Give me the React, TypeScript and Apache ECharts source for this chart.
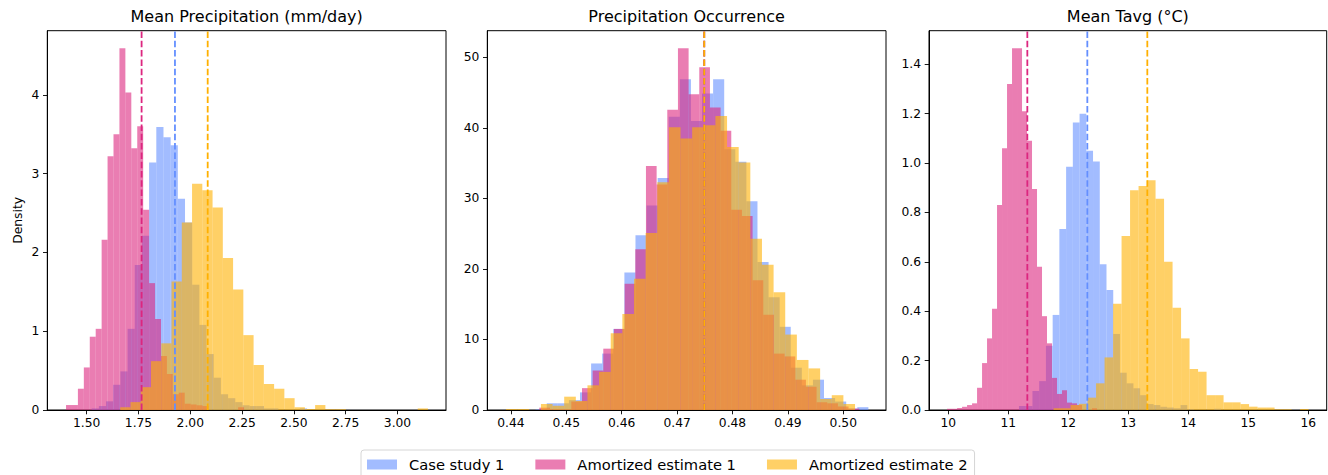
import React, { useEffect, useRef } from "react";
import * as echarts from "echarts";

// ---------- legend / series ----------
const SERIES_NAMES = ["Case study 1", "Amortized estimate 1", "Amortized estimate 2"];
const FILL_COLORS = ["rgba(100,143,255,0.6)", "rgba(220,38,127,0.6)", "rgba(255,176,0,0.6)"];
const LINE_COLORS = ["#648FFF", "#DC267F", "#FFB000"];

const panelTitles = ["Mean Precipitation (mm/day)", "Precipitation Occurrence", "Mean Tavg (°C)"];

// ---------- Panel 1: Mean Precipitation ----------
const precipBinStart = [1.5241, 1.4003, 1.662];
const precipBinWidth = [0.03465, 0.02864, 0.0495];
const precipCase1 = [0.02, 0.05, 0.11, 0.32, 0.49, 1.03, 1.84, 2.21, 3.14, 3.59, 3.46, 3.36, 2.68, 2.38, 1.59, 1.08, 0.71, 0.41, 0.2, 0.15, 0.1, 0.06, 0.05, 0.05, 0.02, 0.02, 0, 0, 0, 0.02];
const precipAmort1 = [0.063, 0.063, 0.27, 0.54, 0.93, 1.03, 2.16, 3.22, 3.5, 4.59, 4.03, 3.32, 3.6, 2.54, 1.61, 1.155, 0.685, 0.457, 0.2, 0.22, 0.08, 0.07, 0.06, 0.05, 0, 0, 0, 0, 0, 0.035];
const precipAmort2 = [0.034, 0.1, 0.29, 0.62, 0.846, 1.63, 2.38, 2.87, 2.79, 2.57, 1.93, 1.53, 0.95, 0.57, 0.33, 0.27, 0.15, 0.035, 0.013, 0.063, 0.01, 0.01, 0, 0, 0, 0, 0, 0, 0, 0.02];
const precipMeans = [1.926, 1.765, 2.084];
const precipXTicks = [1.5, 1.75, 2.0, 2.25, 2.5, 2.75, 3.0];
const precipYTicks = [0, 1, 2, 3, 4];
const precipXRange = [1.3099, 3.2341];
const precipYMax = 4.813;

// ---------- Panel 2: Precipitation Occurrence ----------
const occBinStart = [0.44447, 0.44513, 0.43912];
const occBinWidth = [0.002002, 0.001925, 0.0021];
const occCase1 = [0.1, 0.95, 0.95, 1.4, 2.5, 6.6, 8, 11.5, 19.5, 24.8, 29, 32.9, 41.6, 46.9, 41, 44.9, 46.9, 37, 35.2, 29.6, 21, 16, 11.8, 6, 3.5, 4.3, 1.7, 1.2, 0.2, 0.4];
const occAmort1 = [0.33, 0.1, 0.1, 1.2, 3.1, 5.6, 8.7, 11.5, 17.9, 22.8, 34.6, 32.0, 42.6, 51.3, 44.8, 48.6, 42.9, 39.6, 28.4, 27.5, 18.4, 13.5, 8.0, 7.6, 4.3, 3.3, 1.1, 0.95, 0.5, 0.2];
const occAmort2 = [0.14, 0.14, 0, 0.85, 0.6, 1.89, 1.28, 3.5, 5.4, 10.9, 13.6, 18.6, 25.1, 32.3, 40.1, 38.5, 40.1, 40.4, 41.7, 37.3, 35.1, 24.3, 20.6, 16.7, 10.7, 7.1, 5.9, 1.56, 2.1, 0.85];
const occMeans = [0.4749, 0.4749, 0.4749];
const occXTicks = [0.44, 0.45, 0.46, 0.47, 0.48, 0.49, 0.5];
const occYTicks = [0, 10, 20, 30, 40, 50];
const occXRange = [0.43574, 0.50771];
const occYMax = 53.8;

// ---------- Panel 3: Mean Tavg ----------
const tavgBinStart = [11.178, 9.979, 11.754];
const tavgBinWidth = [0.1122, 0.0833, 0.1417];
const tavgCase1 = [0.016, 0.016, 0.077, 0.117, 0.26, 0.385, 0.733, 0.985, 1.164, 1.2, 1.05, 1.006, 0.59, 0.486, 0.308, 0.151, 0.108, 0.088, 0.06, 0.024, 0.02, 0.013, 0.01, 0.007, 0.02, 0.003, 0, 0, 0, 0.005];
const tavgAmort1 = [0.005, 0.005, 0.008, 0.013, 0.02, 0.027, 0.09, 0.19, 0.29, 0.41, 0.83, 1.06, 1.32, 1.465, 1.465, 1.21, 1.09, 0.895, 0.58, 0.38, 0.27, 0.13, 0.065, 0.08, 0.03, 0.027, 0.02, 0, 0, 0.007];
const tavgAmort2 = [0.007, 0.007, 0.02, 0.025, 0.05, 0.108, 0.213, 0.43, 0.705, 0.89, 0.907, 0.93, 0.855, 0.6, 0.414, 0.29, 0.166, 0.155, 0.06, 0.06, 0.031, 0.031, 0.024, 0.0135, 0.01, 0.01, 0.003, 0.003, 0, 0.004];
const tavgMeans = [12.317, 11.317, 13.317];
const tavgXTicks = [10, 11, 12, 13, 14, 15, 16];
const tavgYTicks = [0, 0.2, 0.4, 0.6, 0.8, 1.0, 1.2, 1.4];
const tavgXRange = [9.678, 16.307];
const tavgYMax = 1.536;

const FONT = "DejaVu Sans";

type Panel = {
  starts: number[];
  widths: number[];
  heights: number[][];
  means: number[];
  xTicks: number[];
  yTicks: number[];
  xRange: number[];
  yMax: number;
  xDec: number;
  yDec: number;
};

const panels: Panel[] = [
  { starts: precipBinStart, widths: precipBinWidth, heights: [precipCase1, precipAmort1, precipAmort2], means: precipMeans, xTicks: precipXTicks, yTicks: precipYTicks, xRange: precipXRange, yMax: precipYMax, xDec: 2, yDec: 0 },
  { starts: occBinStart, widths: occBinWidth, heights: [occCase1, occAmort1, occAmort2], means: occMeans, xTicks: occXTicks, yTicks: occYTicks, xRange: occXRange, yMax: occYMax, xDec: 2, yDec: 0 },
  { starts: tavgBinStart, widths: tavgBinWidth, heights: [tavgCase1, tavgAmort1, tavgAmort2], means: tavgMeans, xTicks: tavgXTicks, yTicks: tavgYTicks, xRange: tavgXRange, yMax: tavgYMax, xDec: 0, yDec: 1 },
];

const gridBoxes = [
  { left: 47.3, width: 398.7 },
  { left: 487.3, width: 398.7 },
  { left: 929, width: 397.7 },
];
const GRID_TOP = 30.7;
const GRID_H = 379.3;

function buildOption() {
  const grid = gridBoxes.map((g) => ({
    left: g.left,
    top: GRID_TOP,
    width: g.width,
    height: GRID_H,
    show: true,
    borderColor: "#000",
    borderWidth: 1,
    backgroundColor: "transparent",
    containLabel: false,
  }));

  const xAxis = panels.map((p, i) => ({
    type: "value",
    gridIndex: i,
    min: p.xRange[0],
    max: p.xRange[1],
    axisLine: { show: true, onZero: false, lineStyle: { color: "#000", width: 1 } },
    axisTick: { show: true, length: 4.3, lineStyle: { color: "#000", width: 0.9 }, customValues: p.xTicks },
    axisLabel: {
      customValues: p.xTicks,
      formatter: (v: number) => v.toFixed(p.xDec),
      color: "#000",
      fontSize: 12.3,
      fontFamily: FONT,
      margin: 7,
    },
    splitLine: { show: false },
  }));

  const yAxis = panels.map((p, i) => ({
    type: "value",
    gridIndex: i,
    min: 0,
    max: p.yMax,
    name: i === 0 ? "Density" : "",
    nameLocation: "middle",
    nameGap: 23,
    nameTextStyle: { fontSize: 12.3, color: "#000", fontFamily: FONT },
    axisLine: { show: true, onZero: false, lineStyle: { color: "#000", width: 1 } },
    axisTick: { show: true, length: 4.3, lineStyle: { color: "#000", width: 0.9 }, customValues: p.yTicks },
    axisLabel: {
      customValues: p.yTicks,
      formatter: (v: number) => v.toFixed(p.yDec),
      color: "#000",
      fontSize: 12.3,
      fontFamily: FONT,
      margin: 8,
    },
    splitLine: { show: false },
  }));

  const series: any[] = [];
  panels.forEach((p, pi) => {
    for (let s = 0; s < 3; s++) {
      const data = p.heights[s].map((h, k) => [
        p.starts[s] + k * p.widths[s],
        p.starts[s] + (k + 1) * p.widths[s],
        h,
      ]);
      const fill = FILL_COLORS[s];
      series.push({
        type: "custom",
        name: SERIES_NAMES[s],
        xAxisIndex: pi,
        yAxisIndex: pi,
        itemStyle: { color: fill },
        encode: { x: [0, 1], y: 2 },
        silent: true,
        z: 2,
        renderItem: (params: any, api: any) => {
          const a = api.coord([api.value(0), 0]);
          const b = api.coord([api.value(1), api.value(2)]);
          return {
            type: "rect",
            shape: { x: a[0], y: b[1], width: b[0] - a[0], height: a[1] - b[1] },
            style: { fill },
          };
        },
        data,
      });
    }
  });
  panels.forEach((p, pi) => {
    for (let s = 0; s < 3; s++) {
      series.push({
        type: "line",
        name: "mean-" + pi + "-" + s,
        xAxisIndex: pi,
        yAxisIndex: pi,
        data: [
          [p.means[s], 0],
          [p.means[s], p.yMax],
        ],
        symbol: "none",
        silent: true,
        z: 5,
        lineStyle: { color: LINE_COLORS[s], width: 1.8, type: [6.5, 2.8] },
      });
    }
  });

  const title = panelTitles.map((t, i) => ({
    text: t,
    left: gridBoxes[i].left + gridBoxes[i].width / 2,
    top: 7,
    padding: 0,
    textAlign: "center",
    textStyle: { fontSize: 16, fontWeight: "normal", color: "#000", fontFamily: FONT, lineHeight: 19 },
  }));

  return {
    animation: false,
    backgroundColor: "#fff",
    title,
    grid,
    xAxis,
    yAxis,
    legend: {
      data: SERIES_NAMES,
      left: 361,
      top: 450,
      orient: "horizontal",
      icon: "rect",
      itemWidth: 30,
      itemHeight: 10,
      itemGap: 31,
      padding: [6, 7, 6, 6],
      borderColor: "#d6d6d6",
      borderWidth: 1,
      borderRadius: 3,
      selectedMode: false,
      itemStyle: { borderWidth: 0 },
      textStyle: { fontSize: 14.7, color: "#000", fontFamily: FONT, lineHeight: 17, padding: [0, 0, 0, 7] },
    },
    series,
  };
}

export default function App() {
  const ref = useRef<HTMLDivElement>(null);
  useEffect(() => {
    if (!ref.current) return;
    const chart = echarts.init(ref.current, undefined, { renderer: "svg" });
    chart.setOption(buildOption() as any);
    return () => chart.dispose();
  }, []);
  return (
    <div
      ref={ref}
      style={{ position: "fixed", left: 0, top: 0, width: 1328, height: 475, background: "#fff" }}
    />
  );
}
